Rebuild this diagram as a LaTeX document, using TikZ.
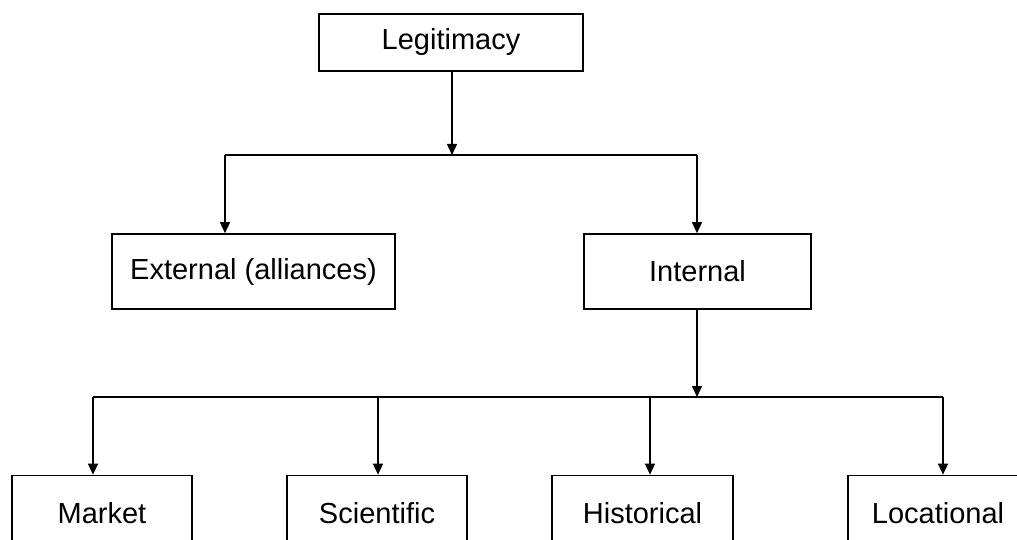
\documentclass[tikz,border=0pt]{standalone}
\usepackage{fontspec}
\setmainfont{Liberation Sans}
\usetikzlibrary{arrows.meta}

\begin{document}
\begin{tikzpicture}[x=1pt, y=-1pt,
	box/.style={draw, line width=1.7pt, inner sep=0pt, minimum height=75pt,
		font=\fontsize{29}{34}\selectfont},
	link/.style={line width=1.5pt},
	arrow/.style={link, -{Triangle[length=11pt, width=10pt]}}]
			\useasboundingbox (0,0) rectangle (1017,540);
			\clip (0,0) rectangle (1017,540);
			% top level
			\node[box, minimum width=264pt, minimum height=57pt] (nodeLeg) at (451,42.5) {Legitimacy};
			\node[box, minimum width=283pt] (nodeExt) at (253.5,271.5) {External (alliances)};
			\node[box, minimum width=227pt] (nodeInt) at (697.5,271.5) {Internal};
			% bottom level
			\node[box, minimum width=180pt] (nodeMarket) at (102,513) {Market};
			\node[box, minimum width=180pt] (nodeSci) at (377,513) {Scientific};
			\node[box, minimum width=181pt] (nodeHist) at (642.5,513) {Historical};
			\node[box, minimum width=180pt] (nodeLoc) at (938,513) {Locational};
			% branch points
			\coordinate (splitTop) at (452,155);
			\coordinate (bendExt) at (225,155);
			\coordinate (bendInt) at (697,155);
			\coordinate (splitLow) at (697,397);
			\coordinate (bendMarket) at (93,397);
			\coordinate (bendSci) at (378,397);
			\coordinate (bendHist) at (650,397);
			\coordinate (bendLoc) at (943,397);
			\draw[arrow] (nodeLeg.south -| splitTop) -- (splitTop);
			\draw[link] (bendExt) -- (bendInt);
			\draw[arrow] (bendExt) -- (bendExt |- nodeExt.north);
			\draw[arrow] (bendInt) -- (bendInt |- nodeInt.north);
			\draw[arrow] (nodeInt.south -| splitLow) -- (splitLow);
			\draw[link] (bendMarket) -- (bendLoc);
			\draw[arrow] (bendMarket) -- (bendMarket |- nodeMarket.north);
			\draw[arrow] (bendSci) -- (bendSci |- nodeSci.north);
			\draw[arrow] (bendHist) -- (bendHist |- nodeHist.north);
			\draw[arrow] (bendLoc) -- (bendLoc |- nodeLoc.north);
		\end{tikzpicture}
\end{document}
